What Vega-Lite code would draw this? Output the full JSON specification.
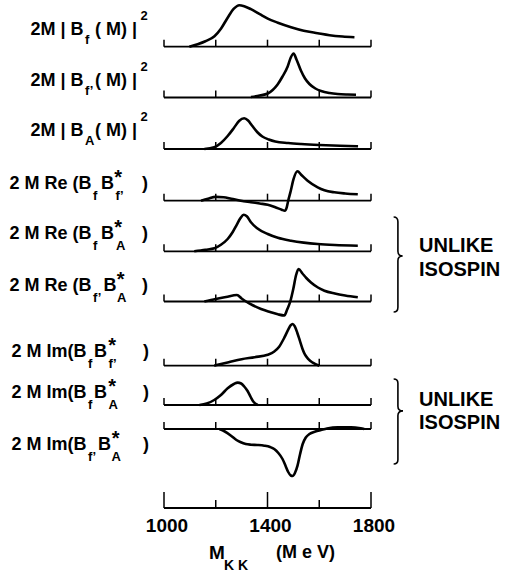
{
  "$schema": "https://vega.github.io/schema/vega-lite/v6.json",
  "padding": 0,
  "background": "white",
  "spacing": 0,
  "bounds": "flush",
  "data": {"values": [{}]},
  "datasets": {
    "ticks": [{"m": 1000, "major": true}, {"m": 1200, "major": false}, {"m": 1400, "major": true}, {"m": 1600, "major": false}, {"m": 1800, "major": true}],
    "p1": [{"m":1098,"v":0},{"m":1130,"v":2.5},{"m":1160,"v":5.5},{"m":1195,"v":10.5},{"m":1220,"v":18},{"m":1246,"v":29},{"m":1270,"v":38},{"m":1291,"v":41.5},{"m":1310,"v":40.5},{"m":1336,"v":37.5},{"m":1370,"v":32.5},{"m":1401,"v":28},{"m":1440,"v":24},{"m":1491,"v":19.5},{"m":1540,"v":16},{"m":1594,"v":13.5},{"m":1640,"v":11.5},{"m":1690,"v":10.2},{"m":1736,"v":9.5}],
    "p2": [{"m":1336,"v":0.5},{"m":1370,"v":2},{"m":1401,"v":4},{"m":1420,"v":7.5},{"m":1439,"v":13},{"m":1458,"v":21},{"m":1478,"v":31},{"m":1490,"v":40},{"m":1501,"v":44},{"m":1512,"v":38},{"m":1529,"v":27},{"m":1545,"v":19},{"m":1562,"v":13.5},{"m":1585,"v":9},{"m":1607,"v":6.5},{"m":1640,"v":4.5},{"m":1671,"v":3.5},{"m":1710,"v":3},{"m":1742,"v":2.8}],
    "p3": [{"m":1156,"v":0},{"m":1194,"v":1.7},{"m":1220,"v":6},{"m":1246,"v":13},{"m":1270,"v":21},{"m":1290,"v":28},{"m":1310,"v":30.7},{"m":1325,"v":28.5},{"m":1340,"v":23.5},{"m":1360,"v":17},{"m":1380,"v":12.5},{"m":1405,"v":9.5},{"m":1430,"v":7.5},{"m":1480,"v":6},{"m":1530,"v":5},{"m":1600,"v":4},{"m":1680,"v":3.2},{"m":1750,"v":2.7}],
    "p4": [{"m":1143,"v":0},{"m":1170,"v":2},{"m":1200,"v":3.8},{"m":1230,"v":3.5},{"m":1260,"v":2},{"m":1297,"v":0},{"m":1336,"v":-1.5},{"m":1370,"v":-2.8},{"m":1401,"v":-4},{"m":1430,"v":-6.5},{"m":1455,"v":-9},{"m":1467,"v":-10},{"m":1474,"v":-7},{"m":1480,"v":0},{"m":1490,"v":10},{"m":1500,"v":21},{"m":1516,"v":29.4},{"m":1530,"v":26},{"m":1555,"v":20},{"m":1594,"v":13.4},{"m":1620,"v":10.5},{"m":1658,"v":8.4},{"m":1700,"v":7.2},{"m":1749,"v":6.4}],
    "p5": [{"m":1117,"v":0},{"m":1160,"v":1.5},{"m":1195,"v":3},{"m":1220,"v":6.5},{"m":1246,"v":12.3},{"m":1265,"v":19},{"m":1280,"v":26},{"m":1295,"v":33},{"m":1308,"v":36.6},{"m":1320,"v":35},{"m":1336,"v":29},{"m":1360,"v":23},{"m":1401,"v":17.3},{"m":1440,"v":13.5},{"m":1491,"v":10.6},{"m":1540,"v":8.7},{"m":1594,"v":7.3},{"m":1660,"v":6.3},{"m":1749,"v":5.6}],
    "p6": [{"m":1156,"v":0},{"m":1200,"v":2.5},{"m":1240,"v":4.5},{"m":1282,"v":6.5},{"m":1300,"v":3},{"m":1317,"v":0},{"m":1345,"v":-4},{"m":1375,"v":-7.5},{"m":1410,"v":-10.5},{"m":1440,"v":-12.8},{"m":1465,"v":-14},{"m":1476,"v":-8},{"m":1488,"v":0},{"m":1500,"v":13},{"m":1510,"v":26},{"m":1520,"v":32.5},{"m":1535,"v":28},{"m":1550,"v":23.5},{"m":1568,"v":19},{"m":1595,"v":14},{"m":1620,"v":10.8},{"m":1660,"v":8},{"m":1700,"v":6},{"m":1749,"v":4.2}],
    "p7": [{"m":1194,"v":0},{"m":1250,"v":3.5},{"m":1300,"v":6.5},{"m":1350,"v":8.5},{"m":1401,"v":11},{"m":1425,"v":14},{"m":1445,"v":19},{"m":1465,"v":28},{"m":1480,"v":36},{"m":1490,"v":40.5},{"m":1497,"v":41.7},{"m":1505,"v":39.5},{"m":1515,"v":33},{"m":1525,"v":25},{"m":1535,"v":17},{"m":1545,"v":11},{"m":1558,"v":6.5},{"m":1575,"v":3},{"m":1600,"v":0}],
    "p8": [{"m":1137,"v":0},{"m":1165,"v":1.5},{"m":1194,"v":5},{"m":1220,"v":10},{"m":1246,"v":16.7},{"m":1270,"v":21},{"m":1285,"v":22.4},{"m":1298,"v":21.5},{"m":1310,"v":18.5},{"m":1323,"v":14},{"m":1335,"v":8},{"m":1345,"v":3.5},{"m":1362,"v":0}],
    "p9": [{"m":1214,"v":0},{"m":1235,"v":-2.5},{"m":1259,"v":-6.7},{"m":1280,"v":-11},{"m":1297,"v":-13.3},{"m":1316,"v":-15},{"m":1336,"v":-15.7},{"m":1360,"v":-16},{"m":1388,"v":-16.7},{"m":1410,"v":-18},{"m":1426,"v":-20},{"m":1442,"v":-24},{"m":1458,"v":-30},{"m":1470,"v":-37},{"m":1480,"v":-43},{"m":1490,"v":-46.5},{"m":1497,"v":-47},{"m":1506,"v":-44},{"m":1516,"v":-36.7},{"m":1526,"v":-25},{"m":1536,"v":-15},{"m":1548,"v":-8.5},{"m":1562,"v":-5},{"m":1585,"v":-2.5},{"m":1607,"v":-1},{"m":1630,"v":0.5},{"m":1671,"v":1.7},{"m":1723,"v":1.7},{"m":1760,"v":0.7},{"m":1774,"v":0}]
  },
  "resolve": {"scale": {"x": "independent", "y": "independent"}},
  "config": {
    "view": {"stroke": null},
    "axis": {"disable": true, "domain": false, "ticks": false, "labels": false, "grid": false},
    "text": {"font": "Liberation Sans, Arial, sans-serif", "fontWeight": "bold", "fill": "black", "baseline": "alphabetic", "fontSize": 18, "align": "left"}
  },
  "vconcat": [
    {
      "width": 207, "height": 60,
      "layer": [
        {"mark": {"type": "rect", "fill": "white", "fillOpacity": 0}, "encoding": {"x": {"datum": 370, "type": "quantitative"}, "x2": {"datum": 2321.7}, "y": {"datum": 42.7, "type": "quantitative"}, "y2": {"datum": -528.3}}},
        {"data": {"name": "ticks"}, "mark": {"type": "rule", "strokeWidth": 1.5, "color": "black"}, "encoding": {"x": {"field": "m", "type": "quantitative", "scale": {"domain": [1000, 1800], "nice": false, "zero": false}, "axis": null}, "y": {"datum": 0, "type": "quantitative", "scale": {"domain": [-17.3, 42.7], "nice": false, "zero": false}, "axis": null}, "y2": {"datum": 7}}},
        {"mark": {"type": "rule", "strokeWidth": 1.8, "color": "black"}, "encoding": {"x": {"datum": 1000, "type": "quantitative"}, "x2": {"datum": 1800}, "y": {"datum": 0, "type": "quantitative"}}},
        {"data": {"name": "p1"}, "mark": {"type": "line", "interpolate": "monotone", "strokeWidth": 2.6, "color": "black"}, "encoding": {"x": {"field": "m", "type": "quantitative"}, "y": {"field": "v", "type": "quantitative"}}},
        {"mark": {"type": "text", "text": "2M | B", "align": "right"}, "encoding": {"x": {"datum": 689, "type": "quantitative"}, "y": {"datum": 11.7, "type": "quantitative"}}},
        {"mark": {"type": "text", "text": "f", "fontSize": 13}, "encoding": {"x": {"datum": 695, "type": "quantitative"}, "y": {"datum": 2.7, "type": "quantitative"}}},
        {"mark": {"type": "text", "text": "( M) |"}, "encoding": {"x": {"datum": 733, "type": "quantitative"}, "y": {"datum": 11.7, "type": "quantitative"}}},
        {"mark": {"type": "text", "text": "2", "fontSize": 13}, "encoding": {"x": {"datum": 909, "type": "quantitative"}, "y": {"datum": 26.7, "type": "quantitative"}}}
      ]
    },
    {
      "width": 207, "height": 50,
      "layer": [
        {"data": {"name": "ticks"}, "mark": {"type": "rule", "strokeWidth": 1.5, "color": "black"}, "encoding": {"x": {"field": "m", "type": "quantitative", "scale": {"domain": [1000, 1800], "nice": false, "zero": false}, "axis": null}, "y": {"datum": 0, "type": "quantitative", "scale": {"domain": [-16.5, 33.5], "nice": false, "zero": false}, "axis": null}, "y2": {"datum": 7}}},
        {"mark": {"type": "rule", "strokeWidth": 1.8, "color": "black"}, "encoding": {"x": {"datum": 1000, "type": "quantitative"}, "x2": {"datum": 1800}, "y": {"datum": 0, "type": "quantitative"}}},
        {"data": {"name": "p2"}, "mark": {"type": "line", "interpolate": "monotone", "strokeWidth": 2.6, "color": "black"}, "encoding": {"x": {"field": "m", "type": "quantitative"}, "y": {"field": "v", "type": "quantitative"}}},
        {"mark": {"type": "text", "text": "2M | B", "align": "right"}, "encoding": {"x": {"datum": 689, "type": "quantitative"}, "y": {"datum": 11.5, "type": "quantitative"}}},
        {"mark": {"type": "text", "text": "f’", "fontSize": 13}, "encoding": {"x": {"datum": 695, "type": "quantitative"}, "y": {"datum": 2.5, "type": "quantitative"}}},
        {"mark": {"type": "text", "text": "( M) |"}, "encoding": {"x": {"datum": 733, "type": "quantitative"}, "y": {"datum": 11.5, "type": "quantitative"}}},
        {"mark": {"type": "text", "text": "2", "fontSize": 13}, "encoding": {"x": {"datum": 909, "type": "quantitative"}, "y": {"datum": 26.5, "type": "quantitative"}}}
      ]
    },
    {
      "width": 207, "height": 50,
      "layer": [
        {"data": {"name": "ticks"}, "mark": {"type": "rule", "strokeWidth": 1.5, "color": "black"}, "encoding": {"x": {"field": "m", "type": "quantitative", "scale": {"domain": [1000, 1800], "nice": false, "zero": false}, "axis": null}, "y": {"datum": 0, "type": "quantitative", "scale": {"domain": [-15, 35], "nice": false, "zero": false}, "axis": null}, "y2": {"datum": 7}}},
        {"mark": {"type": "rule", "strokeWidth": 1.8, "color": "black"}, "encoding": {"x": {"datum": 1000, "type": "quantitative"}, "x2": {"datum": 1800}, "y": {"datum": 0, "type": "quantitative"}}},
        {"data": {"name": "p3"}, "mark": {"type": "line", "interpolate": "monotone", "strokeWidth": 2.6, "color": "black"}, "encoding": {"x": {"field": "m", "type": "quantitative"}, "y": {"field": "v", "type": "quantitative"}}},
        {"mark": {"type": "text", "text": "2M | B", "align": "right"}, "encoding": {"x": {"datum": 689, "type": "quantitative"}, "y": {"datum": 13, "type": "quantitative"}}},
        {"mark": {"type": "text", "text": "A", "fontSize": 13}, "encoding": {"x": {"datum": 695, "type": "quantitative"}, "y": {"datum": 4, "type": "quantitative"}}},
        {"mark": {"type": "text", "text": "( M) |"}, "encoding": {"x": {"datum": 733, "type": "quantitative"}, "y": {"datum": 13, "type": "quantitative"}}},
        {"mark": {"type": "text", "text": "2", "fontSize": 13}, "encoding": {"x": {"datum": 909, "type": "quantitative"}, "y": {"datum": 28, "type": "quantitative"}}}
      ]
    },
    {
      "width": 207, "height": 52,
      "layer": [
        {"data": {"name": "ticks"}, "mark": {"type": "rule", "strokeWidth": 1.5, "color": "black"}, "encoding": {"x": {"field": "m", "type": "quantitative", "scale": {"domain": [1000, 1800], "nice": false, "zero": false}, "axis": null}, "y": {"datum": 0, "type": "quantitative", "scale": {"domain": [-15.3, 36.7], "nice": false, "zero": false}, "axis": null}, "y2": {"datum": 7}}},
        {"mark": {"type": "rule", "strokeWidth": 1.8, "color": "black"}, "encoding": {"x": {"datum": 1000, "type": "quantitative"}, "x2": {"datum": 1800}, "y": {"datum": 0, "type": "quantitative"}}},
        {"data": {"name": "p4"}, "mark": {"type": "line", "interpolate": "monotone", "strokeWidth": 2.6, "color": "black"}, "encoding": {"x": {"field": "m", "type": "quantitative"}, "y": {"field": "v", "type": "quantitative"}}},
        {"mark": {"type": "text", "text": "2 M Re (B", "align": "right"}, "encoding": {"x": {"datum": 720, "type": "quantitative"}, "y": {"datum": 12, "type": "quantitative"}}},
        {"mark": {"type": "text", "text": "f", "fontSize": 13}, "encoding": {"x": {"datum": 726, "type": "quantitative"}, "y": {"datum": 1, "type": "quantitative"}}},
        {"mark": {"type": "text", "text": "B"}, "encoding": {"x": {"datum": 756.5, "type": "quantitative"}, "y": {"datum": 12, "type": "quantitative"}}},
        {"mark": {"type": "text", "text": "*", "fontSize": 20}, "encoding": {"x": {"datum": 808, "type": "quantitative"}, "y": {"datum": 17, "type": "quantitative"}}},
        {"mark": {"type": "text", "text": "f’", "fontSize": 13}, "encoding": {"x": {"datum": 812.6, "type": "quantitative"}, "y": {"datum": 1, "type": "quantitative"}}},
        {"mark": {"type": "text", "text": ")", "align": "right"}, "encoding": {"x": {"datum": 938, "type": "quantitative"}, "y": {"datum": 12, "type": "quantitative"}}}
      ]
    },
    {
      "width": 207, "height": 50,
      "layer": [
        {"data": {"name": "ticks"}, "mark": {"type": "rule", "strokeWidth": 1.5, "color": "black"}, "encoding": {"x": {"field": "m", "type": "quantitative", "scale": {"domain": [1000, 1800], "nice": false, "zero": false}, "axis": null}, "y": {"datum": 0, "type": "quantitative", "scale": {"domain": [-14.7, 35.3], "nice": false, "zero": false}, "axis": null}, "y2": {"datum": 7}}},
        {"mark": {"type": "rule", "strokeWidth": 1.8, "color": "black"}, "encoding": {"x": {"datum": 1000, "type": "quantitative"}, "x2": {"datum": 1800}, "y": {"datum": 0, "type": "quantitative"}}},
        {"data": {"name": "p5"}, "mark": {"type": "line", "interpolate": "monotone", "strokeWidth": 2.6, "color": "black"}, "encoding": {"x": {"field": "m", "type": "quantitative"}, "y": {"field": "v", "type": "quantitative"}}},
        {"mark": {"type": "text", "text": "2 M Re (B", "align": "right"}, "encoding": {"x": {"datum": 720, "type": "quantitative"}, "y": {"datum": 12, "type": "quantitative"}}},
        {"mark": {"type": "text", "text": "f", "fontSize": 13}, "encoding": {"x": {"datum": 726, "type": "quantitative"}, "y": {"datum": 1, "type": "quantitative"}}},
        {"mark": {"type": "text", "text": "B"}, "encoding": {"x": {"datum": 756.5, "type": "quantitative"}, "y": {"datum": 12, "type": "quantitative"}}},
        {"mark": {"type": "text", "text": "*", "fontSize": 20}, "encoding": {"x": {"datum": 808, "type": "quantitative"}, "y": {"datum": 17, "type": "quantitative"}}},
        {"mark": {"type": "text", "text": "A", "fontSize": 13}, "encoding": {"x": {"datum": 814.5, "type": "quantitative"}, "y": {"datum": 1, "type": "quantitative"}}},
        {"mark": {"type": "text", "text": ")", "align": "right"}, "encoding": {"x": {"datum": 938, "type": "quantitative"}, "y": {"datum": 12, "type": "quantitative"}}},
        {"mark": {"type": "point", "shape": "M -0.09 -1 Q 0 -1 0 -0.9 L 0 -0.28 Q 0 -0.18 0.1 -0.18 Q 0 -0.18 0 -0.08 L 0 0.9 Q 0 1 -0.09 1", "size": 9025, "filled": false, "stroke": "black", "strokeWidth": 1.6, "opacity": 1}, "encoding": {"x": {"datum": 1904, "type": "quantitative"}, "y": {"datum": -13.2, "type": "quantitative"}}},
        {"mark": {"type": "text", "text": "UNLIKE", "fontSize": 20}, "encoding": {"x": {"datum": 1985.5, "type": "quantitative"}, "y": {"datum": -0.7, "type": "quantitative"}}},
        {"mark": {"type": "text", "text": "ISOSPIN", "fontSize": 20}, "encoding": {"x": {"datum": 1985.5, "type": "quantitative"}, "y": {"datum": -24.7, "type": "quantitative"}}}
      ]
    },
    {
      "width": 207, "height": 56,
      "layer": [
        {"data": {"name": "ticks"}, "mark": {"type": "rule", "strokeWidth": 1.5, "color": "black"}, "encoding": {"x": {"field": "m", "type": "quantitative", "scale": {"domain": [1000, 1800], "nice": false, "zero": false}, "axis": null}, "y": {"datum": 0, "type": "quantitative", "scale": {"domain": [-20.5, 35.5], "nice": false, "zero": false}, "axis": null}, "y2": {"datum": 7}}},
        {"mark": {"type": "rule", "strokeWidth": 1.8, "color": "black"}, "encoding": {"x": {"datum": 1000, "type": "quantitative"}, "x2": {"datum": 1800}, "y": {"datum": 0, "type": "quantitative"}}},
        {"data": {"name": "p6"}, "mark": {"type": "line", "interpolate": "monotone", "strokeWidth": 2.6, "color": "black"}, "encoding": {"x": {"field": "m", "type": "quantitative"}, "y": {"field": "v", "type": "quantitative"}}},
        {"mark": {"type": "text", "text": "2 M Re (B", "align": "right"}, "encoding": {"x": {"datum": 720, "type": "quantitative"}, "y": {"datum": 11, "type": "quantitative"}}},
        {"mark": {"type": "text", "text": "f’", "fontSize": 13}, "encoding": {"x": {"datum": 726, "type": "quantitative"}, "y": {"datum": 0, "type": "quantitative"}}},
        {"mark": {"type": "text", "text": "B"}, "encoding": {"x": {"datum": 766, "type": "quantitative"}, "y": {"datum": 11, "type": "quantitative"}}},
        {"mark": {"type": "text", "text": "*", "fontSize": 20}, "encoding": {"x": {"datum": 817, "type": "quantitative"}, "y": {"datum": 16, "type": "quantitative"}}},
        {"mark": {"type": "text", "text": "A", "fontSize": 13}, "encoding": {"x": {"datum": 818.4, "type": "quantitative"}, "y": {"datum": 0, "type": "quantitative"}}},
        {"mark": {"type": "text", "text": ")", "align": "right"}, "encoding": {"x": {"datum": 938, "type": "quantitative"}, "y": {"datum": 11, "type": "quantitative"}}}
      ]
    },
    {
      "width": 207, "height": 62,
      "layer": [
        {"data": {"name": "ticks"}, "mark": {"type": "rule", "strokeWidth": 1.5, "color": "black"}, "encoding": {"x": {"field": "m", "type": "quantitative", "scale": {"domain": [1000, 1800], "nice": false, "zero": false}, "axis": null}, "y": {"datum": 0, "type": "quantitative", "scale": {"domain": [-18.3, 43.7], "nice": false, "zero": false}, "axis": null}, "y2": {"datum": 7}}},
        {"mark": {"type": "rule", "strokeWidth": 1.8, "color": "black"}, "encoding": {"x": {"datum": 1000, "type": "quantitative"}, "x2": {"datum": 1800}, "y": {"datum": 0, "type": "quantitative"}}},
        {"data": {"name": "p7"}, "mark": {"type": "line", "interpolate": "monotone", "strokeWidth": 2.6, "color": "black"}, "encoding": {"x": {"field": "m", "type": "quantitative"}, "y": {"field": "v", "type": "quantitative"}}},
        {"mark": {"type": "text", "text": "2 M Im(B", "align": "right"}, "encoding": {"x": {"datum": 700.5, "type": "quantitative"}, "y": {"datum": 8.7, "type": "quantitative"}}},
        {"mark": {"type": "text", "text": "f", "fontSize": 13}, "encoding": {"x": {"datum": 706.3, "type": "quantitative"}, "y": {"datum": -2.3, "type": "quantitative"}}},
        {"mark": {"type": "text", "text": "B"}, "encoding": {"x": {"datum": 729.5, "type": "quantitative"}, "y": {"datum": 8.7, "type": "quantitative"}}},
        {"mark": {"type": "text", "text": "*", "fontSize": 20}, "encoding": {"x": {"datum": 784.6, "type": "quantitative"}, "y": {"datum": 13.7, "type": "quantitative"}}},
        {"mark": {"type": "text", "text": "f’", "fontSize": 13}, "encoding": {"x": {"datum": 785.5, "type": "quantitative"}, "y": {"datum": -2.3, "type": "quantitative"}}},
        {"mark": {"type": "text", "text": ")", "align": "right"}, "encoding": {"x": {"datum": 942, "type": "quantitative"}, "y": {"datum": 8.7, "type": "quantitative"}}}
      ]
    },
    {
      "width": 207, "height": 34,
      "layer": [
        {"data": {"name": "ticks"}, "mark": {"type": "rule", "strokeWidth": 1.5, "color": "black"}, "encoding": {"x": {"field": "m", "type": "quantitative", "scale": {"domain": [1000, 1800], "nice": false, "zero": false}, "axis": null}, "y": {"datum": 0, "type": "quantitative", "scale": {"domain": [-13, 21], "nice": false, "zero": false}, "axis": null}, "y2": {"datum": 7}}},
        {"mark": {"type": "rule", "strokeWidth": 1.8, "color": "black"}, "encoding": {"x": {"datum": 1000, "type": "quantitative"}, "x2": {"datum": 1800}, "y": {"datum": 0, "type": "quantitative"}}},
        {"data": {"name": "p8"}, "mark": {"type": "line", "interpolate": "monotone", "strokeWidth": 2.6, "color": "black"}, "encoding": {"x": {"field": "m", "type": "quantitative"}, "y": {"field": "v", "type": "quantitative"}}},
        {"mark": {"type": "text", "text": "2 M Im(B", "align": "right"}, "encoding": {"x": {"datum": 700.5, "type": "quantitative"}, "y": {"datum": 7, "type": "quantitative"}}},
        {"mark": {"type": "text", "text": "f", "fontSize": 13}, "encoding": {"x": {"datum": 706.3, "type": "quantitative"}, "y": {"datum": -4, "type": "quantitative"}}},
        {"mark": {"type": "text", "text": "B"}, "encoding": {"x": {"datum": 729.5, "type": "quantitative"}, "y": {"datum": 7, "type": "quantitative"}}},
        {"mark": {"type": "text", "text": "*", "fontSize": 20}, "encoding": {"x": {"datum": 784.6, "type": "quantitative"}, "y": {"datum": 12, "type": "quantitative"}}},
        {"mark": {"type": "text", "text": "A", "fontSize": 13}, "encoding": {"x": {"datum": 785.5, "type": "quantitative"}, "y": {"datum": -4, "type": "quantitative"}}},
        {"mark": {"type": "text", "text": ")", "align": "right"}, "encoding": {"x": {"datum": 942, "type": "quantitative"}, "y": {"datum": 7, "type": "quantitative"}}},
        {"mark": {"type": "point", "shape": "M -0.1 -1 Q 0 -1 0 -0.9 L 0 -0.36 Q 0 -0.25 0.12 -0.25 Q 0 -0.25 0 -0.14 L 0 0.9 Q 0 1 -0.1 1", "size": 7225, "filled": false, "stroke": "black", "strokeWidth": 1.6, "opacity": 1}, "encoding": {"x": {"datum": 1904, "type": "quantitative"}, "y": {"datum": -16.5, "type": "quantitative"}}},
        {"mark": {"type": "text", "text": "UNLIKE", "fontSize": 20}, "encoding": {"x": {"datum": 1985.5, "type": "quantitative"}, "y": {"datum": -1, "type": "quantitative"}}},
        {"mark": {"type": "text", "text": "ISOSPIN", "fontSize": 20}, "encoding": {"x": {"datum": 1985.5, "type": "quantitative"}, "y": {"datum": -24, "type": "quantitative"}}}
      ]
    },
    {
      "width": 207, "height": 66,
      "layer": [
        {"data": {"name": "ticks"}, "mark": {"type": "rule", "strokeWidth": 1.5, "color": "black"}, "encoding": {"x": {"field": "m", "type": "quantitative", "scale": {"domain": [1000, 1800], "nice": false, "zero": false}, "axis": null}, "y": {"datum": 0, "type": "quantitative", "scale": {"domain": [-55, 11], "nice": false, "zero": false}, "axis": null}, "y2": {"datum": 7}}},
        {"mark": {"type": "rule", "strokeWidth": 1.8, "color": "black"}, "encoding": {"x": {"datum": 1000, "type": "quantitative"}, "x2": {"datum": 1800}, "y": {"datum": 0, "type": "quantitative"}}},
        {"data": {"name": "p9"}, "mark": {"type": "line", "interpolate": "monotone", "strokeWidth": 2.6, "color": "black"}, "encoding": {"x": {"field": "m", "type": "quantitative"}, "y": {"field": "v", "type": "quantitative"}}},
        {"mark": {"type": "text", "text": "2 M Im(B", "align": "right"}, "encoding": {"x": {"datum": 700.5, "type": "quantitative"}, "y": {"datum": -21, "type": "quantitative"}}},
        {"mark": {"type": "text", "text": "f’", "fontSize": 13}, "encoding": {"x": {"datum": 706.3, "type": "quantitative"}, "y": {"datum": -32, "type": "quantitative"}}},
        {"mark": {"type": "text", "text": "B"}, "encoding": {"x": {"datum": 745, "type": "quantitative"}, "y": {"datum": -21, "type": "quantitative"}}},
        {"mark": {"type": "text", "text": "*", "fontSize": 20}, "encoding": {"x": {"datum": 798, "type": "quantitative"}, "y": {"datum": -16, "type": "quantitative"}}},
        {"mark": {"type": "text", "text": "A", "fontSize": 13}, "encoding": {"x": {"datum": 797, "type": "quantitative"}, "y": {"datum": -32, "type": "quantitative"}}},
        {"mark": {"type": "text", "text": ")", "align": "right"}, "encoding": {"x": {"datum": 942, "type": "quantitative"}, "y": {"datum": -21, "type": "quantitative"}}}
      ]
    },
    {
      "width": 207, "height": 91,
      "layer": [
        {"data": {"name": "ticks"}, "transform": [{"filter": "datum.major"}], "mark": {"type": "rule", "strokeWidth": 1.5, "color": "black"}, "encoding": {"x": {"field": "m", "type": "quantitative", "scale": {"domain": [1000, 1800], "nice": false, "zero": false}, "axis": null}, "y": {"datum": 0, "type": "quantitative", "scale": {"domain": [-67, 24], "nice": false, "zero": false}, "axis": null}, "y2": {"datum": 16}}},
        {"data": {"name": "ticks"}, "transform": [{"filter": "!datum.major"}], "mark": {"type": "rule", "strokeWidth": 1.5, "color": "black"}, "encoding": {"x": {"field": "m", "type": "quantitative"}, "y": {"datum": 0, "type": "quantitative"}, "y2": {"datum": 8}}},
        {"mark": {"type": "rule", "strokeWidth": 1.8, "color": "black"}, "encoding": {"x": {"datum": 1000, "type": "quantitative"}, "x2": {"datum": 1800}, "y": {"datum": 0, "type": "quantitative"}}},
        {"data": {"name": "ticks"}, "transform": [{"filter": "datum.major"}], "mark": {"type": "text", "align": "center", "dx": 3, "fontSize": 19}, "encoding": {"x": {"field": "m", "type": "quantitative"}, "y": {"datum": -24, "type": "quantitative"}, "text": {"field": "m", "type": "quantitative", "format": "d"}}},
        {"mark": {"type": "text", "text": "M", "fontSize": 19}, "encoding": {"x": {"datum": 1174, "type": "quantitative"}, "y": {"datum": -51, "type": "quantitative"}}},
        {"mark": {"type": "text", "text": "K K", "fontSize": 14}, "encoding": {"x": {"datum": 1232, "type": "quantitative"}, "y": {"datum": -61.5, "type": "quantitative"}}},
        {"mark": {"type": "text", "text": "(M e V)", "fontSize": 18}, "encoding": {"x": {"datum": 1433, "type": "quantitative"}, "y": {"datum": -50, "type": "quantitative"}}}
      ]
    }
  ]
}
